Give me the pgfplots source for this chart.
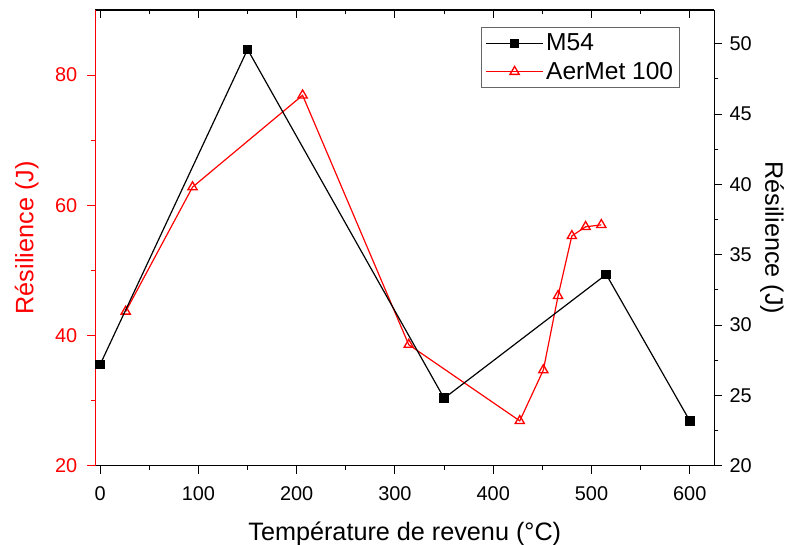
\documentclass[border=0pt]{standalone}
\usepackage{pgfplots}
\pgfplotsset{compat=1.18}
\usepackage{fontspec}
\setmainfont{Liberation Sans}
\begin{document}
\pgfplotsset{
  base/.style={
    scale only axis, width=466.5pt, height=343.5pt,
    at={(0,0)}, anchor=south west,
    xmin=-5, xmax=625,
    /pgf/number format/assume math mode=true,
    tick label style={font=\fontsize{15}{17}\selectfont},
    label style={font=\fontsize{19}{22}\selectfont},
    major tick length=6pt, minor tick length=3pt,
    every tick/.style={line width=0.8pt},
    axis line style={line width=1pt},
  }
}
\begin{tikzpicture}
\useasboundingbox (-69pt,-59.25pt) rectangle (519.75pt,351pt);
% top axis with inward ticks
\begin{axis}[base,
  ymin=20, ymax=90,
  axis x line*=top, axis y line=none,
  tick align=inside,
  xtick={0,100,...,600}, minor x tick num=1,
  xticklabels={},
]
\addplot[draw=none] coordinates {(0,30)};
\end{axis}
% left (red) axis, bottom x axis
\begin{axis}[base,
  ymin=20, ymax=90,
  axis x line*=bottom, axis y line*=left,
  tick align=outside,
  xtick={0,100,...,600}, minor x tick num=1,
  ytick={20,40,60,80}, minor y tick num=1,
  y axis line style={red, line width=1pt},
  ytick style={red},
  yticklabel style={red, xshift=-4pt},
  xticklabel style={yshift=-6pt},
  xlabel={Température de revenu (°C)},
  ylabel={Résilience (J)},
  xlabel style={at={(axis description cs:0.5,-0.150)}, anchor=center},
  ylabel style={red, at={(axis description cs:-0.1109,0.5)}, anchor=center},
]
\addplot[red, line width=0.9pt, mark=triangle, mark size=4pt, mark options={line width=1pt}] coordinates {
(26,43.7) (94,62.8) (206,76.9) (314,38.6) (427,26.9) (451,34.7) (466,46.1) (480,55.3) (494,56.7) (510,57.0)
};
\end{axis}
% right (black) axis
\begin{axis}[base,
  ymin=20, ymax=52.4,
  axis x line=none, axis y line*=right,
  tick align=outside,
  ytick={20,25,...,50}, minor y tick num=1,
  yticklabel style={xshift=2pt},
  ylabel={Résilience (J)},
  ylabel style={rotate=180, at={(axis description cs:1.0932,0.5)}, anchor=center},
  legend style={at={(0.945,0.963)}, anchor=north east, draw=black!60, line width=0.8pt,
    font=\fontsize{18.5}{21}\selectfont, inner xsep=3pt, inner ysep=3pt, row sep=3pt},
  legend cell align=left,
  legend image code/.code={
    \draw[#1, mark repeat=2, mark phase=2] plot coordinates {(0cm,0cm) (0.75cm,0cm) (1.5cm,0cm)};
  },
]
\addplot[black, line width=0.9pt, mark=square*, mark size=3.2pt] coordinates {
(0,27.2) (150,49.6) (350,24.8) (515,33.6) (600,23.2)
};
\addlegendentry{M54}
\addlegendimage{red, line width=0.9pt, mark=triangle, mark size=4pt, mark options={line width=1pt}}
\addlegendentry{AerMet 100}
\end{axis}
\end{tikzpicture}
\end{document}
